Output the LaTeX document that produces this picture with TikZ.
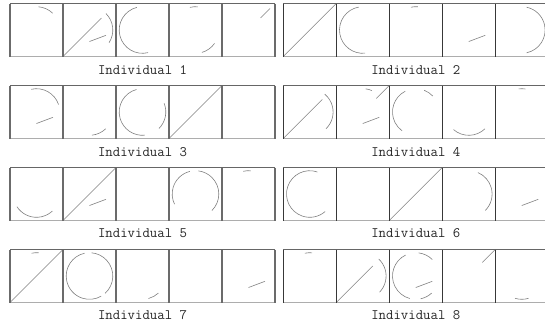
\documentclass[tikz,border=0pt]{standalone}
\usepackage{fontspec}
\tikzset{
  shp/.style={draw=black!50, line width=0.6pt},
  lvert/.style={draw=black!58, line width=1.6pt},
  rvert/.style={draw=black!78, line width=0.8pt},
  topln/.style={draw=black!60, line width=0.8pt},
  botln/.style={draw=black!32, line width=1.4pt},
  lbl/.style={inner sep=0pt, text=black!85, font=\ttfamily\fontsize{14.4}{16}\selectfont},
}
\newcommand{\carc}[2]{\draw[shp] (#1:23.3) arc[start angle=#1, end angle=#2, radius=23.3];}
\newcommand{\dgp}[2]{\draw[shp] (#1,#1) -- (#2,#2);}
\newcommand{\mth}{\draw[shp] (0,-11.5) -- (16.5,-5.3);}
% \grp{x0}{top}{vertstyle}
\newcommand{\grp}[3]{%
  \draw[topln] (#1,-#2) -- ++(265,0);
  \draw[botln] (#1,-#2-53) -- ++(265,0);
  \foreach \i in {0,...,5}{\draw[#3] (#1+53*\i,-#2) -- ++(0,-53);}
}
% \bx{x0}{top}{index}{content}
\newcommand{\bx}[4]{\begin{scope}[shift={(#1+26.5+53*#3,-#2-26.5)}]#4\end{scope}}
\begin{document}
\begin{tikzpicture}[x=1pt,y=1pt]
\useasboundingbox (0,0) rectangle (545,-325);
% ---------- Individual 1 ----------
\def\X{10}\def\T{3.5}
\bx{\X}{\T}{0}{\carc{46}{85}}
\bx{\X}{\T}{1}{\dgp{-26.5}{12}\carc{-33}{45}\mth}
\bx{\X}{\T}{2}{\carc{104}{284}}
\bx{\X}{\T}{3}{\carc{84}{104}\carc{-74}{-35}}
\bx{\X}{\T}{4}{\dgp{12}{21.5}}
\grp{\X}{\T}{lvert}
\node[lbl] (l1) at (142.5,-70) {Individual 1};
% ---------- Individual 2 ----------
\def\X{283.3}\def\T{3.5}
\bx{\X}{\T}{0}{\dgp{-26.5}{26.5}}
\bx{\X}{\T}{1}{\carc{100}{276}}
\bx{\X}{\T}{2}{\carc{85}{102}}
\bx{\X}{\T}{3}{\mth}
\bx{\X}{\T}{4}{\carc{-78}{78}}
\grp{\X}{\T}{rvert}
\node[lbl] (l2) at (415.8,-70) {Individual 2};
% ---------- Individual 3 ----------
\def\X{10}\def\T{85.5}
\bx{\X}{\T}{0}{\carc{19}{103}\mth}
\bx{\X}{\T}{1}{\carc{-84}{-46}}
\bx{\X}{\T}{2}{\carc{105}{276}\carc{-45}{22}}
\bx{\X}{\T}{3}{\dgp{-26.5}{26.5}}
\grp{\X}{\T}{lvert}
\node[lbl] (l3) at (142.5,-152) {Individual 3};
% ---------- Individual 4 ----------
\def\X{283.3}\def\T{85.5}
\bx{\X}{\T}{0}{\dgp{-26.5}{12.5}\carc{-46}{50}}
\bx{\X}{\T}{1}{\carc{67}{83}\dgp{13.5}{26.5}\mth}
\bx{\X}{\T}{2}{\carc{117}{234}\carc{43}{69}}
\bx{\X}{\T}{3}{\carc{229}{314}}
\bx{\X}{\T}{4}{\carc{81}{98}}
\grp{\X}{\T}{rvert}
\node[lbl] (l4) at (415.8,-152) {Individual 4};
% ---------- Individual 5 ----------
\def\X{10}\def\T{167.5}
\bx{\X}{\T}{0}{\carc{213}{313}}
\bx{\X}{\T}{1}{\dgp{-26.5}{26.5}\mth}
\bx{\X}{\T}{3}{\carc{104}{206}\carc{-45}{83}}
\bx{\X}{\T}{4}{\carc{84}{103}}
\grp{\X}{\T}{lvert}
\node[lbl] (l5) at (142.5,-233.5) {Individual 5};
% ---------- Individual 6 ----------
\def\X{283.3}\def\T{167.5}
\bx{\X}{\T}{0}{\carc{71}{311}}
\bx{\X}{\T}{2}{\dgp{-26.5}{26.5}}
\bx{\X}{\T}{3}{\carc{-45}{67}}
\bx{\X}{\T}{4}{\mth}
\grp{\X}{\T}{rvert}
\node[lbl] (l6) at (415.8,-233.5) {Individual 6};
% ---------- Individual 7 ----------
\def\X{10}\def\T{249.5}
\bx{\X}{\T}{0}{\dgp{-26.5}{26.5}\carc{85}{102}}
\bx{\X}{\T}{1}{\carc{102}{300}\carc{-48}{85}}
\bx{\X}{\T}{2}{\carc{-75}{-47}}
\bx{\X}{\T}{4}{\mth}
\grp{\X}{\T}{lvert}
\node[lbl] (l7) at (142.5,-315.5) {Individual 7};
% ---------- Individual 8 ----------
\def\X{283.3}\def\T{249.5}
\bx{\X}{\T}{0}{\carc{84}{102}}
\bx{\X}{\T}{1}{\dgp{-26.5}{10}\carc{-44}{47}}
\bx{\X}{\T}{2}{\carc{116}{255}\carc{45}{83}\carc{-78}{-47}\mth}
\bx{\X}{\T}{3}{\dgp{13.5}{26.5}}
\bx{\X}{\T}{4}{\carc{253}{287}}
\grp{\X}{\T}{rvert}
\node[lbl] (l8) at (415.8,-315.5) {Individual 8};
\end{tikzpicture}
\end{document}
